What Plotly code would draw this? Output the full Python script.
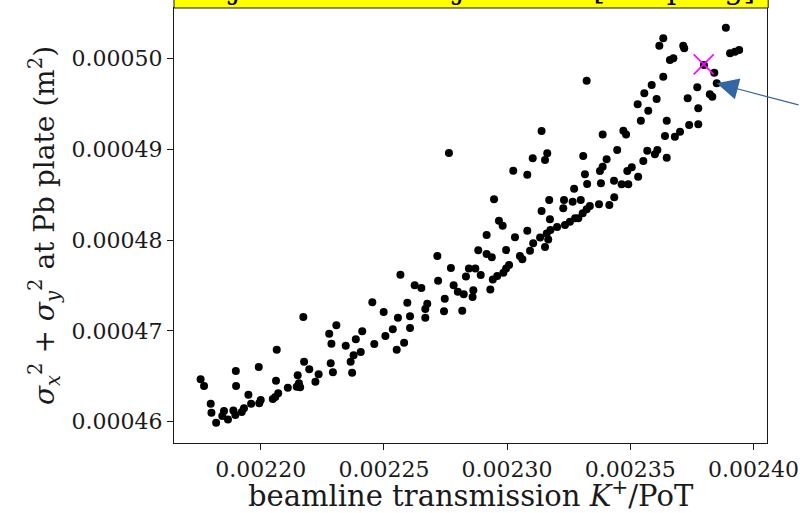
import plotly.graph_objects as go

# ---- data ----
transmission = [
    0.0021756, 0.0021770, 0.0021797, 0.0021800, 0.0021819, 0.0021844, 0.0021851, 0.0021867, 0.0021889, 0.0021897,
    0.0021899, 0.0021900, 0.0021923, 0.0021932, 0.0021950, 0.0021961, 0.0021992, 0.0021994, 0.0022000, 0.0022049,
    0.0022062, 0.0022065, 0.0022059, 0.0022071, 0.0022110, 0.0022146, 0.0022150, 0.0022155, 0.0022160, 0.0022173,
    0.0022176, 0.0022197, 0.0022222, 0.0022235, 0.0022278, 0.0022284, 0.0022287, 0.0022293, 0.0022307, 0.0022345,
    0.0022365, 0.0022371, 0.0022377, 0.0022386, 0.0022406, 0.0022412, 0.0022453, 0.0022461, 0.0022499, 0.0022506,
    0.0022536, 0.0022552, 0.0022557, 0.0022567, 0.0022582, 0.0022595, 0.0022606, 0.0022606, 0.0022625, 0.0022652,
    0.0022668, 0.0022668, 0.0022676, 0.0022717, 0.0022720, 0.0022744, 0.0022747, 0.0022764, 0.0022772, 0.0022783,
    0.0022800, 0.0022818, 0.0022824, 0.0022833, 0.0022845, 0.0022863, 0.0022860, 0.0022871, 0.0022883, 0.0022893,
    0.0022917, 0.0022917, 0.0022942, 0.0022932, 0.0022938, 0.0022947, 0.0022960, 0.0022967, 0.0022982, 0.0022985,
    0.0022996, 0.0023008, 0.0022996, 0.0023025, 0.0023032, 0.0023052, 0.0023062, 0.0023082, 0.0023082, 0.0023093,
    0.0023104, 0.0023106, 0.0023557, 0.0023607, 0.0023530, 0.0023573, 0.0023543, 0.0023648, 0.0023140, 0.0023388,
    0.0023472, 0.0023483, 0.0023641, 0.0023163, 0.0023154, 0.0023309, 0.0023447, 0.0023404, 0.0023569, 0.0023610,
    0.0023600, 0.0023648, 0.0023553, 0.0023388, 0.0023377, 0.0023506, 0.0023488, 0.0023316, 0.0023532, 0.0023325,
    0.0023381, 0.0023434, 0.0023465, 0.0023492, 0.0023272, 0.0023171, 0.0023231, 0.0023228, 0.0023266, 0.0023299,
    0.0023373, 0.0023415, 0.0023435, 0.0023336, 0.0023323, 0.0023307, 0.0023289, 0.0023276, 0.0023255, 0.0023235,
    0.0023203, 0.0023174, 0.0023140, 0.0023176, 0.0023161, 0.0023134, 0.0023167, 0.0023154, 0.0023323, 0.0023634,
    0.0023618, 0.0023634, 0.0023587, 0.0023888, 0.0023715, 0.0023719, 0.0023905, 0.0023925, 0.0023942, 0.0023661,
    0.0023675, 0.0023799, 0.0023841, 0.0023772, 0.0023851, 0.0023823, 0.0023833, 0.0023733, 0.0023776, 0.0023739,
    0.0023776, 0.0023681, 0.0023702,
]
sigma2 = [
    0.00046467, 0.00046393, 0.00046198, 0.00046099, 0.00045989, 0.00046063, 0.00046118, 0.00046026, 0.00046125, 0.00046074,
    0.00046558, 0.00046393, 0.00046107, 0.00046148, 0.00046297, 0.00046198, 0.00046602, 0.00046203, 0.00046239, 0.00046250,
    0.00046451, 0.00046793, 0.00046272, 0.00046313, 0.00046374, 0.00046385, 0.00046511, 0.00046423, 0.00046379, 0.00047152,
    0.00046660, 0.00046577, 0.00046440, 0.00046522, 0.00046969, 0.00046643, 0.00046859, 0.00046544, 0.00047061, 0.00046837,
    0.00046660, 0.00046539, 0.00046731, 0.00046907, 0.00046767, 0.00046995, 0.00047314, 0.00046855, 0.00047208, 0.00046943,
    0.00047017, 0.00046793, 0.00047145, 0.00047618, 0.00046870, 0.00047310, 0.00047160, 0.00047031, 0.00047501, 0.00047472,
    0.00047145, 0.00047241, 0.00047299, 0.00047824, 0.00047552, 0.00047215, 0.00047354, 0.00048958, 0.00047692, 0.00047501,
    0.00047431, 0.00047222, 0.00047402, 0.00047600, 0.00047688, 0.00047446, 0.00047373, 0.00047688, 0.00047887, 0.00047615,
    0.00048055, 0.00047846, 0.00047565, 0.00047455, 0.00047810, 0.00048448, 0.00047604, 0.00048212, 0.00048157, 0.00047640,
    0.00047688, 0.00047725, 0.00047890, 0.00048763, 0.00048030, 0.00047824, 0.00047788, 0.00048719, 0.00048102, 0.00047882,
    0.00048899, 0.00047964, 0.00049615, 0.00049552, 0.00049494, 0.00049423, 0.00049313, 0.00049313, 0.00049200, 0.00049163,
    0.00049203, 0.00049163, 0.00049145, 0.00048954, 0.00048881, 0.00048925, 0.00048991, 0.00048888, 0.00048983, 0.00048991,
    0.00048943, 0.00048906, 0.00048870, 0.00048807, 0.00048759, 0.00048800, 0.00048759, 0.00048723, 0.00048697, 0.00048616,
    0.00048624, 0.00048653, 0.00048613, 0.00048613, 0.00048565, 0.00048440, 0.00048440, 0.00048349, 0.00048422, 0.00048440,
    0.00048393, 0.00048385, 0.00048470, 0.00048374, 0.00048338, 0.00048294, 0.00048239, 0.00048239, 0.00048201, 0.00048165,
    0.00048143, 0.00048228, 0.00048319, 0.00048110, 0.00048072, 0.00048028, 0.00048005, 0.00047923, 0.00049753, 0.00050220,
    0.00050139, 0.00049797, 0.00049706, 0.00050337, 0.00050139, 0.00050110, 0.00050055, 0.00050073, 0.00050091, 0.00049981,
    0.00050000, 0.00049926, 0.00049841, 0.00049681, 0.00049725, 0.00049604, 0.00049577, 0.00049560, 0.00049450, 0.00049266,
    0.00049274, 0.00049137, 0.00049192,
]
best_x = [0.0023798]
best_y = [0.00049934]
arrow_x = 0.0023851
arrow_y = 0.00049725

x_ticks = [0.00220, 0.00225, 0.00230, 0.00235, 0.00240]
x_ticktext = ["0.00220", "0.00225", "0.00230", "0.00235", "0.00240"]
y_ticks = [0.00046, 0.00047, 0.00048, 0.00049, 0.00050]
y_ticktext = ["0.00046", "0.00047", "0.00048", "0.00049", "0.00050"]
x_range = [0.0021648, 0.0024055]
y_range = [0.00045766, 0.00050554]

title_text = "Objective 1 vs Objective 2 [sampling]"
x_title = "beamline transmission <i>K</i><sup>+</sup>/PoT"
y_title = ("<i>σ</i><sub><i>x</i></sub><sup>2</sup> + <i>σ</i><sub><i>y</i></sub><sup>2</sup>"
           " at Pb plate (m<sup>2</sup>)")

SERIF = "DejaVu Serif"
INK = "#1a1a1a"

fig = go.Figure()
fig.add_trace(go.Scatter(
    x=transmission, y=sigma2, mode="markers",
    marker=dict(color="black", size=8, line=dict(width=0)),
    showlegend=False, hoverinfo="x+y",
))
fig.add_trace(go.Scatter(
    x=best_x, y=best_y, mode="markers",
    marker=dict(symbol="x-thin", size=20, color="#ff00ff",
                line=dict(color="#ff00ff", width=1.6)),
    showlegend=False,
))

axis_common = dict(
    showgrid=False, zeroline=False, showline=True, mirror=True,
    linecolor=INK, linewidth=1.4, ticks="outside", ticklen=6,
    tickwidth=1.3, tickcolor=INK, automargin=False,
    tickfont=dict(family=SERIF, size=22, color=INK),
)

fig.update_layout(
    width=800, height=513,
    margin=dict(l=174, r=33, t=8, b=70),
    paper_bgcolor="white", plot_bgcolor="white",
    xaxis=dict(range=x_range, tickvals=x_ticks, ticktext=x_ticktext, **axis_common),
    yaxis=dict(range=y_range, tickvals=y_ticks, ticktext=y_ticktext,
               title=dict(text=y_title, font=dict(family=SERIF, size=28, color=INK), standoff=8),
               **axis_common),
    shapes=[dict(type="rect", xref="paper", yref="paper", x0=0, x1=1.002, y0=1.0, y1=1.2,
                 fillcolor="#ffff00", line=dict(color=INK, width=1), layer="above")],
    annotations=[
        dict(text=title_text, xref="paper", yref="paper", x=0.5, y=1.0,
             xanchor="center", yanchor="bottom", showarrow=False,
             font=dict(family=SERIF, size=30, color="black")),
        dict(text=x_title, xref="paper", yref="paper", x=0.5, y=0,
             xanchor="center", yanchor="top", yshift=-30, showarrow=False,
             font=dict(family=SERIF, size=29, color=INK)),
        dict(text="", x=arrow_x, y=arrow_y, xref="x", yref="y",
             showarrow=True, ax=120, ay=22, arrowhead=2, arrowsize=3.6,
             arrowwidth=1.2, arrowcolor="#3465a4", standoff=0),
    ],
)

fig.write_html("out.html")
